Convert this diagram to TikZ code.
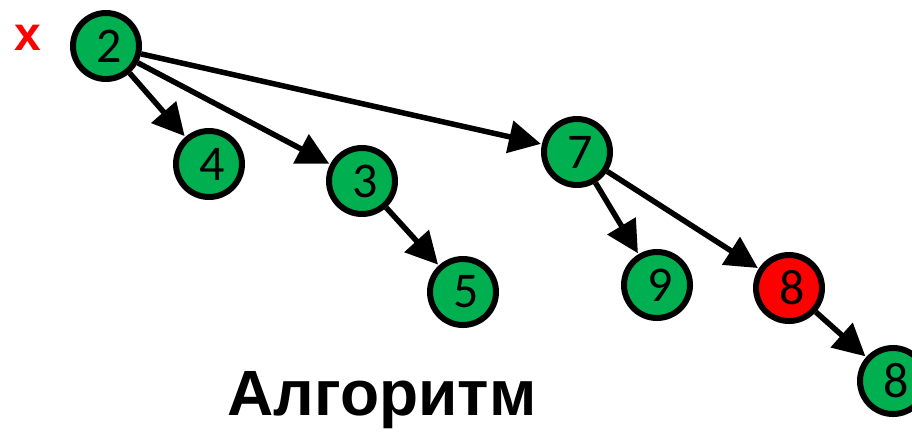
\documentclass[tikz,border=0pt]{standalone}
\usepackage{fontspec}
\setmainfont{Carlito}
\newfontfamily\arialfont{Liberation Sans}
\usetikzlibrary{arrows.meta}
\definecolor{ngreen}{HTML}{00B050}
\definecolor{nred}{HTML}{FF0000}
\begin{document}
\begin{tikzpicture}[x=1pt,y=-1pt,
  vnode/.style={circle,draw=black,line width=6pt,fill=ngreen,minimum size=66pt,inner sep=0pt,
    font=\fontsize{50}{50}\selectfont},
  rnode/.style={vnode,fill=nred},
  arr/.style={line width=5.5pt,-{Triangle[length=32pt,width=32pt]},shorten >=1pt}]
\useasboundingbox (0,0) rectangle (912,432);
\node[vnode] (n2) at (106,46) {\hspace{6pt}2};
\node[vnode] (n4) at (209,164) {\hspace{6pt}4};
\node[vnode] (n3) at (362,181) {\hspace{6pt}3};
\node[vnode] (n5) at (463,292) {\hspace{6pt}5};
\node[vnode] (n7) at (577,152) {\hspace{6pt}7};
\node[vnode] (n9) at (657,285) {\hspace{6pt}9};
\node[rnode] (n8) at (789,288) {\hspace{6pt}8};
\node[vnode] (n8b) at (893,381) {\hspace{6pt}8};
\draw[arr] (n2) -- (n4);
\draw[arr] (n2) -- (n3);
\draw[arr] (n2) -- (n7);
\draw[arr] (n3) -- (n5);
\draw[arr] (n7) -- (n9);
\draw[arr] (n7) -- (n8);
\draw[arr] (n8) -- (n8b);
\node[font=\arialfont\bfseries\fontsize{48}{48}\selectfont,text=nred] (x) at (28,38) {x};
\node[font=\arialfont\bfseries\fontsize{64}{64}\selectfont] (title) at (382,400) {Алгоритм};
\end{tikzpicture}
\end{document}
